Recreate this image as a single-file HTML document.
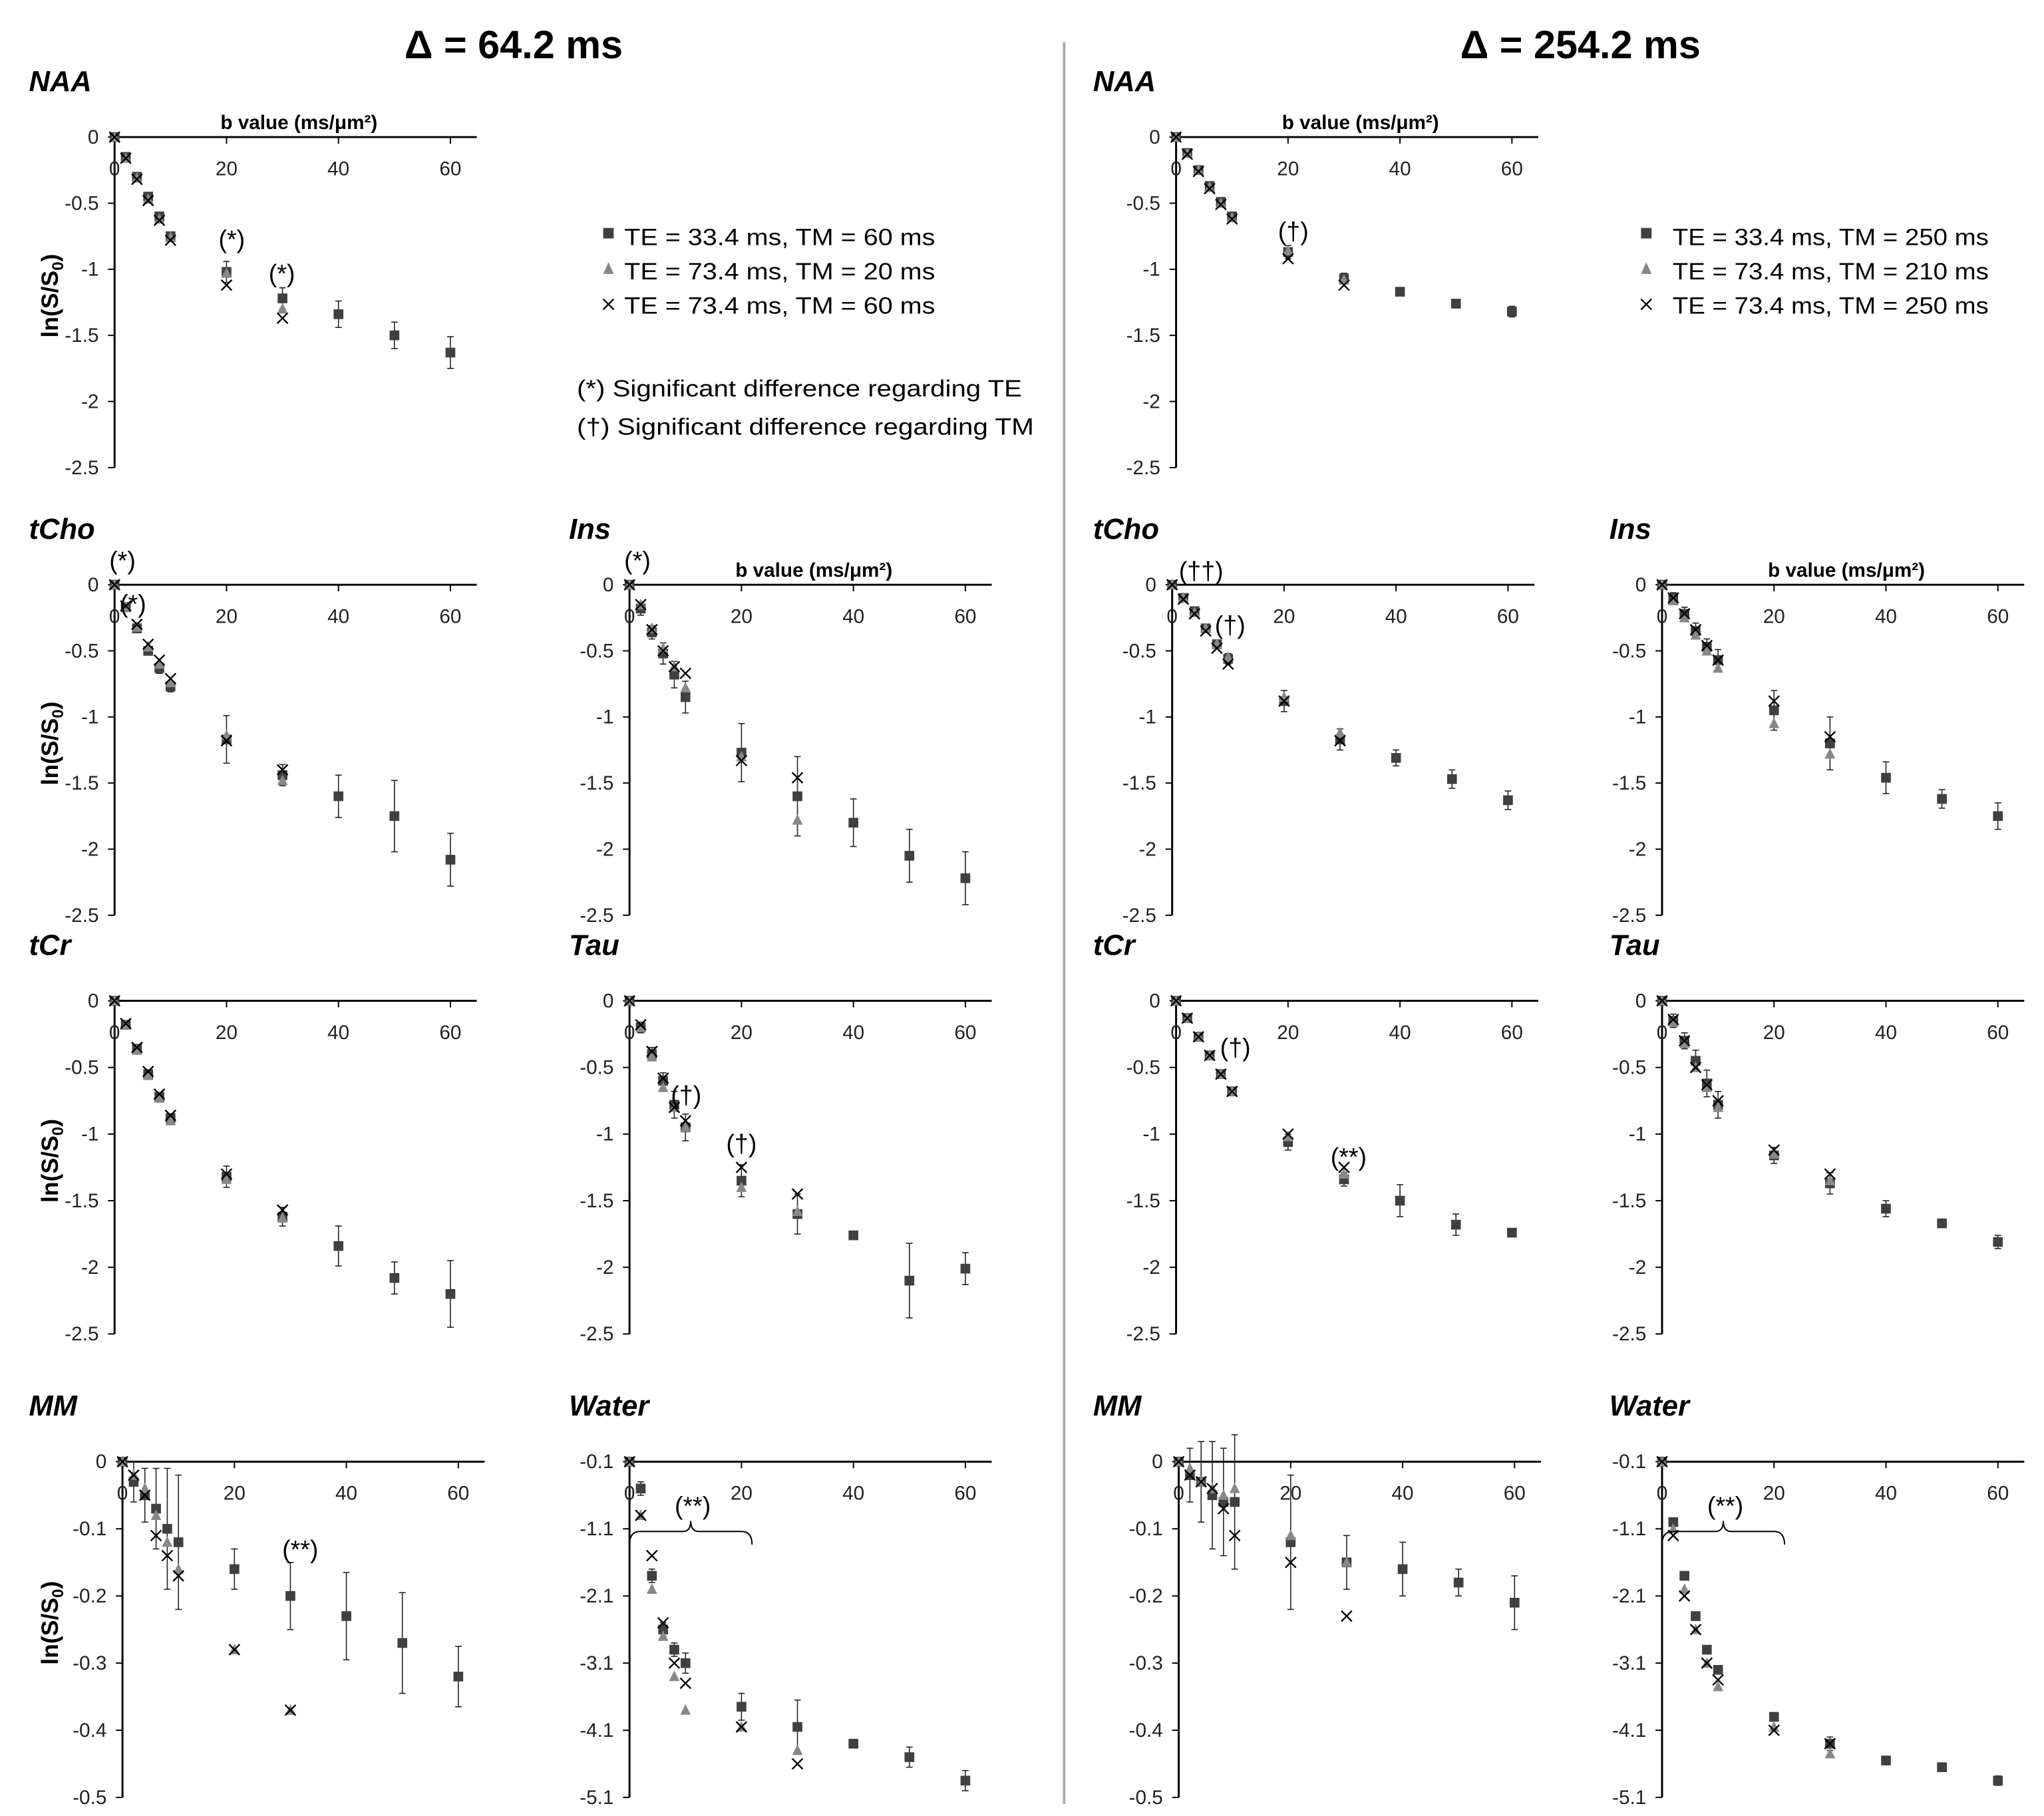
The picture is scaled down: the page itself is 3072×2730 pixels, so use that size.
<!DOCTYPE html>
<html><head><meta charset="utf-8">
<style>
html,body{margin:0;padding:0;background:#fff;}
svg{display:block;font-family:"Liberation Sans",sans-serif;}
</style></head>
<body>
<svg id="fig" width="3072" height="2730" viewBox="0 0 1552 1379" xmlns="http://www.w3.org/2000/svg">
<rect x="0" y="0" width="1552" height="1379" fill="#fff"/>
<text x="390" y="44" font-size="30" font-weight="bold" text-anchor="middle">Δ = 64.2 ms</text>
<text x="1200" y="44" font-size="30" font-weight="bold" text-anchor="middle">Δ = 254.2 ms</text>
<line x1="808" y1="32" x2="808" y2="1370" stroke="#aaa" stroke-width="2"/>
<g>
<rect x="458" y="173" width="8" height="8" fill="#404040"/>
<text x="474" y="186" font-size="18" textLength="236" lengthAdjust="spacingAndGlyphs">TE = 33.4 ms, TM = 60 ms</text>
<polygon points="462,199 458,208 466,208" fill="#888"/>
<text x="474" y="212" font-size="18" textLength="236" lengthAdjust="spacingAndGlyphs">TE = 73.4 ms, TM = 20 ms</text>
<path d="M458,227L466,235M458,235L466,227" stroke="#000" stroke-width="1.2"/>
<text x="474" y="238" font-size="18" textLength="236" lengthAdjust="spacingAndGlyphs">TE = 73.4 ms, TM = 60 ms</text>
<text x="438" y="301" font-size="18" textLength="338" lengthAdjust="spacingAndGlyphs">(*) Significant difference regarding TE</text>
<text x="438" y="330" font-size="18" textLength="347" lengthAdjust="spacingAndGlyphs">(†) Significant difference regarding TM</text>
</g>
<g>
<rect x="1246" y="173" width="8" height="8" fill="#404040"/>
<text x="1270" y="186" font-size="18" textLength="240" lengthAdjust="spacingAndGlyphs">TE = 33.4 ms, TM = 250 ms</text>
<polygon points="1250,199 1246,208 1254,208" fill="#888"/>
<text x="1270" y="212" font-size="18" textLength="240" lengthAdjust="spacingAndGlyphs">TE = 73.4 ms, TM = 210 ms</text>
<path d="M1246,227L1254,235M1246,235L1254,227" stroke="#000" stroke-width="1.2"/>
<text x="1270" y="238" font-size="18" textLength="240" lengthAdjust="spacingAndGlyphs">TE = 73.4 ms, TM = 250 ms</text>
</g>
<g id="panels"></g>
</svg>
<script>
const bSquare = [0,2,4,6,8,10,20,30,40,50,60];
const bOther = [0,2,4,6,8,10,20,30];
const stdTicks = [0,-0.5,-1,-1.5,-2,-2.5];
const mmTicks = [0,-0.1,-0.2,-0.3,-0.4,-0.5];
const waterTicks = [-0.1,-1.1,-2.1,-3.1,-4.1,-5.1];
const xTicks = [0,20,40,60];

const naaL_sq = [0,-0.15,-0.3,-0.45,-0.6,-0.75,-1.02,-1.22,-1.34,-1.5,-1.63];
const naaL_tri = [0,-0.16,-0.31,-0.47,-0.62,-0.76,-1.03,-1.3];
const naaL_x = [0,-0.16,-0.32,-0.48,-0.63,-0.78,-1.12,-1.37];
const naaL_err = [0,0.02,0.02,0.03,0.03,0.03,0.08,0.08,0.1,0.1,0.12];
const tchoL_sq = [0,-0.17,-0.33,-0.5,-0.63,-0.77,-1.17,-1.44,-1.6,-1.75,-2.08];
const tchoL_tri = [0,-0.17,-0.32,-0.47,-0.6,-0.74,-1.14,-1.48];
const tchoL_x = [0,-0.16,-0.3,-0.45,-0.57,-0.71,-1.18,-1.4];
const tchoL_err = [0,0.03,0.03,0.03,0.04,0.04,0.18,0.08,0.16,0.27,0.2];
const insL_sq = [0,-0.18,-0.36,-0.52,-0.68,-0.85,-1.27,-1.6,-1.8,-2.05,-2.22];
const insL_tri = [0,-0.15,-0.33,-0.48,-0.62,-0.78,-1.3,-1.78];
const insL_x = [0,-0.15,-0.34,-0.5,-0.62,-0.67,-1.33,-1.46];
const insL_err = [0,0.05,0.05,0.08,0.1,0.12,0.22,0.3,0.18,0.2,0.2];
const tcrL_sq = [0,-0.18,-0.36,-0.55,-0.72,-0.88,-1.32,-1.62,-1.84,-2.08,-2.2];
const tcrL_tri = [0,-0.18,-0.37,-0.56,-0.73,-0.9,-1.34,-1.63];
const tcrL_x = [0,-0.17,-0.35,-0.53,-0.7,-0.86,-1.3,-1.57];
const tcrL_err = [0,0.02,0.02,0.03,0.03,0.03,0.08,0.07,0.15,0.12,0.25];
const tauL_sq = [0,-0.2,-0.4,-0.6,-0.78,-0.95,-1.35,-1.6,-1.76,-2.1,-2.01];
const tauL_tri = [0,-0.2,-0.42,-0.65,-0.8,-0.95,-1.4,-1.58];
const tauL_x = [0,-0.18,-0.38,-0.58,-0.8,-0.9,-1.25,-1.45];
const tauL_err = [0,0.04,0.05,0.06,0.1,0.1,0.12,0.15,0.03,0.28,0.12];
const mmL_sq = [0,-0.03,-0.05,-0.07,-0.1,-0.12,-0.16,-0.2,-0.23,-0.27,-0.32];
const mmL_tri = [0,-0.02,-0.04,-0.08,-0.12,-0.16,-0.28,-0.37];
const mmL_x = [0,-0.02,-0.05,-0.11,-0.14,-0.17,-0.28,-0.37];
const mmL_err = [0,0.03,0.04,0.06,0.09,0.1,0.03,0.05,0.065,0.075,0.045];
const waterL_sq = [-0.1,-0.5,-1.8,-2.6,-2.9,-3.1,-3.75,-4.05,-4.3,-4.5,-4.85];
const waterL_tri = [-0.1,-0.9,-2.0,-2.7,-3.3,-3.8,-4.05,-4.4];
const waterL_x = [-0.1,-0.9,-1.5,-2.5,-3.1,-3.4,-4.05,-4.6];
const waterL_err = [0,0.1,0.1,0.1,0.1,0.15,0.2,0.4,0.05,0.15,0.15];
const naaR_sq = [0,-0.12,-0.25,-0.37,-0.49,-0.6,-0.87,-1.07,-1.17,-1.26,-1.32];
const naaR_tri = [0,-0.12,-0.25,-0.38,-0.5,-0.61,-0.86,-1.08];
const naaR_x = [0,-0.13,-0.26,-0.39,-0.51,-0.62,-0.92,-1.12];
const naaR_err = [0,0.02,0.02,0.02,0.02,0.03,0.05,0.04,0.03,0.03,0.04];
const tchoR_sq = [0,-0.1,-0.2,-0.33,-0.45,-0.56,-0.88,-1.17,-1.31,-1.47,-1.63];
const tchoR_tri = [0,-0.1,-0.21,-0.33,-0.45,-0.55,-0.85,-1.12];
const tchoR_x = [0,-0.11,-0.22,-0.35,-0.48,-0.6,-0.88,-1.18];
const tchoR_err = [0,0.02,0.02,0.03,0.03,0.04,0.08,0.08,0.06,0.07,0.07];
const insR_sq = [0,-0.1,-0.22,-0.35,-0.47,-0.57,-0.95,-1.2,-1.46,-1.62,-1.75];
const insR_tri = [0,-0.12,-0.25,-0.38,-0.5,-0.63,-1.05,-1.28];
const insR_x = [0,-0.1,-0.22,-0.34,-0.46,-0.57,-0.88,-1.15];
const insR_err = [0,0.04,0.05,0.06,0.06,0.08,0.15,0.2,0.12,0.07,0.1];
const tcrR_sq = [0,-0.13,-0.27,-0.41,-0.55,-0.68,-1.06,-1.34,-1.5,-1.68,-1.74];
const tcrR_tri = [0,-0.13,-0.27,-0.41,-0.55,-0.68,-1.02,-1.3];
const tcrR_x = [0,-0.13,-0.27,-0.41,-0.55,-0.68,-1.0,-1.25];
const tcrR_err = [0,0.02,0.02,0.02,0.03,0.03,0.06,0.05,0.12,0.08,0.03];
const tauR_sq = [0,-0.15,-0.3,-0.45,-0.62,-0.78,-1.16,-1.37,-1.56,-1.67,-1.81];
const tauR_tri = [0,-0.16,-0.32,-0.5,-0.65,-0.8,-1.15,-1.35];
const tauR_x = [0,-0.14,-0.3,-0.5,-0.63,-0.75,-1.12,-1.3];
const tauR_err = [0,0.05,0.06,0.08,0.1,0.1,0.06,0.08,0.06,0.02,0.05];
const mmR_sq = [0,-0.02,-0.03,-0.05,-0.06,-0.06,-0.12,-0.15,-0.16,-0.18,-0.21];
const mmR_tri = [0,-0.01,-0.03,-0.04,-0.05,-0.04,-0.11,-0.15];
const mmR_x = [0,-0.02,-0.03,-0.04,-0.07,-0.11,-0.15,-0.23];
const mmR_err = [0,0.04,0.06,0.08,0.08,0.1,0.1,0.04,0.04,0.02,0.04];
const waterR_sq = [-0.1,-1.0,-1.8,-2.4,-2.9,-3.2,-3.9,-4.3,-4.55,-4.65,-4.85];
const waterR_tri = [-0.1,-1.1,-2.0,-2.6,-3.1,-3.45,-4.05,-4.45];
const waterR_x = [-0.1,-1.2,-2.1,-2.6,-3.1,-3.35,-4.1,-4.3];
const waterR_err = [0,0.05,0.05,0.05,0.05,0.05,0.05,0.1,0.05,0.05,0.07];

const NS = "http://www.w3.org/2000/svg";
const root = document.getElementById('panels');
function mk(tag, attrs, parent){const e=document.createElementNS(NS,tag);for(const k in attrs)e.setAttribute(k,attrs[k]);parent.appendChild(e);return e;}

const panels = [
 {id:'naa-left',label:'NAA',lx:22,ox:87,oy:104,H:251,ticks:stdTicks,sq:naaL_sq,tri:naaL_tri,x:naaL_x,err:naaL_err,ytitle:true,bl:true,ann:[['(*)',176,188],['(*)',214,214]]},
 {id:'tcho-left',label:'tCho',lx:22,ox:87,oy:444,H:251,ticks:stdTicks,sq:tchoL_sq,tri:tchoL_tri,x:tchoL_x,err:tchoL_err,ytitle:true,ann:[['(*)',93,432],['(*)',101,465]]},
 {id:'ins-left',label:'Ins',lx:432,ox:478,oy:444,H:251,ticks:stdTicks,sq:insL_sq,tri:insL_tri,x:insL_x,err:insL_err,bl:true,ann:[['(*)',484,432]]},
 {id:'tcr-left',label:'tCr',lx:22,ox:87,oy:760,H:253,ticks:stdTicks,sq:tcrL_sq,tri:tcrL_tri,x:tcrL_x,err:tcrL_err,ytitle:true,ann:[]},
 {id:'tau-left',label:'Tau',lx:432,ox:478,oy:760,H:253,ticks:stdTicks,sq:tauL_sq,tri:tauL_tri,x:tauL_x,err:tauL_err,ann:[['(†)',521,838],['(†)',563,875]]},
 {id:'mm-left',label:'MM',lx:22,ox:93,oy:1110,H:255,ticks:mmTicks,sq:mmL_sq,tri:mmL_tri,x:mmL_x,err:mmL_err,ytitle:true,ann:[['(**)',228,1183]]},
 {id:'water-left',label:'Water',lx:432,ox:478,oy:1110,H:255,ticks:waterTicks,sq:waterL_sq,tri:waterL_tri,x:waterL_x,err:waterL_err,brace:true,ann:[['(**)',526,1150]]},
 {id:'naa-right',label:'NAA',lx:830,ox:893,oy:104,H:251,ticks:stdTicks,sq:naaR_sq,tri:naaR_tri,x:naaR_x,err:naaR_err,bl:true,ann:[['(†)',982,182]]},
 {id:'tcho-right',label:'tCho',lx:830,ox:890,oy:444,H:251,ticks:stdTicks,sq:tchoR_sq,tri:tchoR_tri,x:tchoR_x,err:tchoR_err,ann:[['(††)',912,440],['(†)',934,481]]},
 {id:'ins-right',label:'Ins',lx:1222,ox:1262,oy:444,H:251,ticks:stdTicks,sq:insR_sq,tri:insR_tri,x:insR_x,err:insR_err,bl:true,ann:[]},
 {id:'tcr-right',label:'tCr',lx:830,ox:893,oy:760,H:253,ticks:stdTicks,sq:tcrR_sq,tri:tcrR_tri,x:tcrR_x,err:tcrR_err,ann:[['(†)',938,802],['(**)',1024,885]]},
 {id:'tau-right',label:'Tau',lx:1222,ox:1262,oy:760,H:253,ticks:stdTicks,sq:tauR_sq,tri:tauR_tri,x:tauR_x,err:tauR_err,ann:[]},
 {id:'mm-right',label:'MM',lx:830,ox:895,oy:1110,H:255,ticks:mmTicks,sq:mmR_sq,tri:mmR_tri,x:mmR_x,err:mmR_err,ann:[]},
 {id:'water-right',label:'Water',lx:1222,ox:1262,oy:1110,H:255,ticks:waterTicks,sq:waterR_sq,tri:waterR_tri,x:waterR_x,err:waterR_err,brace:true,ann:[['(**)',1310,1150]]}
];

panels.forEach(p=>{
  const g = mk('g',{},root);
  
  
  const ymax = p.ticks[0], ymin = p.ticks[p.ticks.length-1];
  const ys = v => p.oy + (ymax - v)/(ymax - ymin)*p.H;
  const xs = b => p.ox + b*4.25;
  const lab = mk('text',{x:p.lx,y:p.oy-35,'font-size':22,'font-weight':'bold','font-style':'italic'},g);
  lab.textContent = p.label;
  
  
  const xa = mk('line',{x1:p.ox,y1:p.oy,x2:p.ox+275,y2:p.oy,stroke:'#000','stroke-width':1.5},g);
  
  
  const ya = mk('line',{x1:p.ox,y1:p.oy,x2:p.ox,y2:p.oy+p.H,stroke:'#000','stroke-width':1.5},g);
  
  
  p.ticks.forEach(t=>{
    mk('line',{x1:p.ox-5,y1:ys(t),x2:p.ox,y2:ys(t),stroke:'#000','stroke-width':1},g);
    const tl = mk('text',{x:p.ox-12,y:ys(t)+5,'font-size':15,'text-anchor':'end',fill:'#222'},g);
    tl.textContent = String(t);
    
    
  });
  xTicks.forEach(t=>{
    mk('line',{x1:xs(t),y1:p.oy,x2:xs(t),y2:p.oy+5,stroke:'#000','stroke-width':1},g);
    const tl = mk('text',{x:xs(t),y:p.oy+29,'font-size':15,'text-anchor':'middle',fill:'#222'},g);
    tl.textContent = String(t);
    
    
  });
  if(p.bl){
    const bt = mk('text',{x:p.ox+140,y:p.oy-6,'font-size':15,'font-weight':'bold','text-anchor':'middle'},g);
    bt.textContent = 'b value (ms/μm²)';
    
    
  }
  if(p.ytitle){
    const cy = p.oy + p.H/2 - 5;
    const yt = mk('text',{x:44,y:cy,'font-size':18,'font-weight':'bold','text-anchor':'middle',transform:`rotate(-90 44 ${cy})`},g);
    yt.innerHTML = 'ln(S/S<tspan font-size="12" dy="4">0</tspan><tspan dy="-4">)</tspan>';
    
    
  }
  bSquare.forEach((b,i)=>{
    const e = p.err[i]; if(!e) return;
    const x = xs(b);
    mk('line',{x1:x,y1:ys(p.sq[i]-e),x2:x,y2:ys(p.sq[i]+e),stroke:'#222','stroke-width':0.8},g);
    mk('line',{x1:x-2.5,y1:ys(p.sq[i]-e),x2:x+2.5,y2:ys(p.sq[i]-e),stroke:'#222','stroke-width':0.8},g);
    mk('line',{x1:x-2.5,y1:ys(p.sq[i]+e),x2:x+2.5,y2:ys(p.sq[i]+e),stroke:'#222','stroke-width':0.8},g);
  });
  bSquare.forEach((b,i)=>{
    const r = mk('rect',{x:xs(b)-3.7,y:ys(p.sq[i])-3.7,width:7.4,height:7.4,fill:'#404040'},g);
    
    
  });
  bOther.forEach((b,i)=>{
    const x=xs(b), y=ys(p.tri[i]);
    const t = mk('polygon',{points:`${x},${y-4.5} ${x-4},${y+3.5} ${x+4},${y+3.5}`,fill:'#888'},g);
    
    
  });
  bOther.forEach((b,i)=>{
    const x=xs(b), y=ys(p.x[i]);
    const c = mk('path',{d:`M${x-4},${y-4}L${x+4},${y+4}M${x-4},${y+4}L${x+4},${y-4}`,stroke:'#000','stroke-width':1.2,fill:'none'},g);
    
    
  });
  p.ann.forEach(a=>{
    const t = mk('text',{x:a[1],y:a[2],'font-size':19,'text-anchor':'middle'},g);
    t.textContent = a[0];
    
    
  });
  if(p.brace){
    const x0=p.ox, x1=p.ox+93, yb=p.oy+53, xm=(x0+x1)/2;
    const br = mk('path',{d:`M${x0},${yb+10}Q${x0},${yb} ${x0+8},${yb}L${xm-6},${yb}Q${xm},${yb} ${xm},${yb-8}Q${xm},${yb} ${xm+6},${yb}L${x1-8},${yb}Q${x1},${yb} ${x1},${yb+10}`,stroke:'#000','stroke-width':1,fill:'none'},g);
    
    
  }
});
</script>
</body></html>
